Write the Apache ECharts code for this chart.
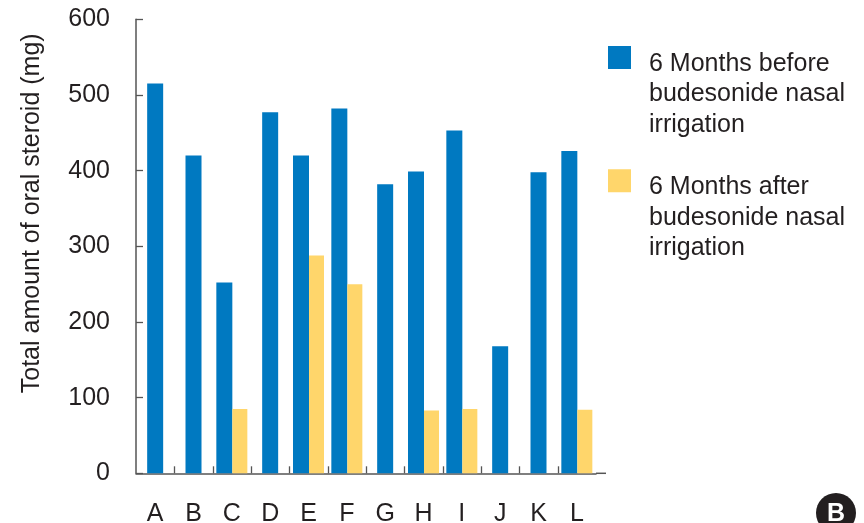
<!DOCTYPE html>
<html>
<head>
<meta charset="utf-8">
<script src="https://cdn.jsdelivr.net/npm/echarts@6/dist/echarts.min.js"></script>
<style>
  html, body { margin: 0; padding: 0; background: #ffffff; }
  #chart { width: 864px; height: 523px; }
</style>
</head>
<body>
<div id="chart"></div>
<script>
// Patients A–L: total oral steroid (mg) in the 6 months before / after irrigation
const categories = ['A', 'B', 'C', 'D', 'E', 'F', 'G', 'H', 'I', 'J', 'K', 'L'];
const beforeValues = [515, 420, 252, 477, 420, 482, 382, 399, 453, 168, 398, 426];
const afterValues = [null, null, 85, null, 288, 250, null, 83, 85, null, null, 84];
const yMin = 0, yMax = 600, yStep = 100;
const seriesNames = [
  '6 Months before\nbudesonide nasal\nirrigation',
  '6 Months after\nbudesonide nasal\nirrigation'
];

// Patients with an "after" value get a side-by-side pair; the rest get one centred bar
const pairedBefore = beforeValues.map((v, i) => (afterValues[i] != null ? v : null));
const soloBefore = beforeValues.map((v, i) => (afterValues[i] == null ? v : null));

const BLUE = '#0079c1';
const YELLOW = '#ffd66b';
const INK = '#231f20';
const AXIS = '#555555';
const FONT = '"Liberation Sans", Arial, Helvetica, sans-serif';
const FS = 25;

// Square legend swatch pinned to the top of a tall item box (first text line)
const swatch = 'path://M0,0H23V23H0Z M35.99,96.99H36V97H35.99Z';

const chart = echarts.init(document.getElementById('chart'));

chart.setOption({
  animation: false,
  textStyle: { fontFamily: FONT },
  grid: {
    left: 136, right: 268, top: 19.3, bottom: 49.7,
    containLabel: false,
    outerBoundsMode: 'none'
  },
  legend: {
    orient: 'vertical',
    left: 608,
    top: 46,
    padding: 0,
    itemGap: 26.3,
    itemWidth: 36,
    itemHeight: 97,
    selectedMode: false,
    data: [
      { name: seriesNames[0], icon: swatch },
      { name: seriesNames[1], icon: swatch }
    ],
    textStyle: { fontSize: FS, lineHeight: 30.5, color: INK, fontFamily: FONT }
  },
  xAxis: [
    {
      type: 'category',
      data: categories,
      axisLine: { lineStyle: { color: AXIS, width: 1.5 } },
      axisTick: { show: false },
      axisLabel: { color: INK, fontSize: FS, margin: 28, fontFamily: FONT }
    },
    {
      type: 'category',
      data: categories,
      show: false
    }
  ],
  yAxis: {
    type: 'value',
    min: yMin,
    max: yMax,
    interval: yStep,
    name: 'Total amount of oral steroid (mg)',
    nameLocation: 'middle',
    nameGap: 91,
    nameTextStyle: { color: INK, fontSize: FS, fontFamily: FONT, padding: [0, 0, 0, 66] },
    axisLine: { show: true, lineStyle: { color: AXIS, width: 1.5 } },
    axisTick: { show: true, inside: true, length: 7, lineStyle: { color: AXIS, width: 1.3 } },
    splitLine: { show: false },
    axisLabel: { color: INK, fontSize: FS, margin: 26, fontFamily: FONT }
  },
  series: [
    {
      name: seriesNames[0],
      type: 'bar',
      xAxisIndex: 0,
      data: pairedBefore,
      barWidth: 16,
      barGap: '0%',
      itemStyle: { color: BLUE }
    },
    {
      name: seriesNames[1],
      type: 'bar',
      xAxisIndex: 0,
      data: afterValues,
      barWidth: 15,
      barGap: '0%',
      itemStyle: { color: YELLOW }
    },
    {
      name: seriesNames[0],
      type: 'bar',
      xAxisIndex: 1,
      data: soloBefore,
      barWidth: 16,
      itemStyle: { color: BLUE }
    },
    {
      // Category boundary ticks (interior only) and the axis-line overhang
      type: 'custom',
      xAxisIndex: 0,
      silent: true,
      clip: false,
      z: 5,
      data: categories.map((c, i) => [i]),
      encode: { x: 0 },
      renderItem: function (params, api) {
        const i = api.value(0);
        const p = api.coord([i, 0]);
        const w = api.size([1, 0])[0];
        const children = [];
        if (i > 0) {
          const x = Math.round(p[0] - w / 2) + 0.5;
          children.push({
            type: 'line',
            shape: { x1: x, y1: p[1], x2: x, y2: p[1] - 7 },
            style: { stroke: AXIS, lineWidth: 1.3 }
          });
        }
        if (i === categories.length - 1) {
          children.push({
            type: 'line',
            shape: { x1: p[0] + w / 2, y1: p[1], x2: p[0] + w / 2 + 10, y2: p[1] },
            style: { stroke: AXIS, lineWidth: 1.5, lineCap: 'butt' }
          });
        }
        return { type: 'group', children: children };
      }
    }
  ],
  graphic: [
    {
      type: 'group',
      left: 816,
      top: 493,
      children: [
        { type: 'circle', shape: { cx: 20, cy: 20, r: 20 }, style: { fill: INK } },
        {
          type: 'text',
          style: {
            text: 'B', x: 20, y: 21, align: 'center', verticalAlign: 'middle',
            fill: '#ffffff', fontSize: 25, fontWeight: 'bold', fontFamily: FONT
          }
        }
      ]
    }
  ]
});
</script>
</body>
</html>
